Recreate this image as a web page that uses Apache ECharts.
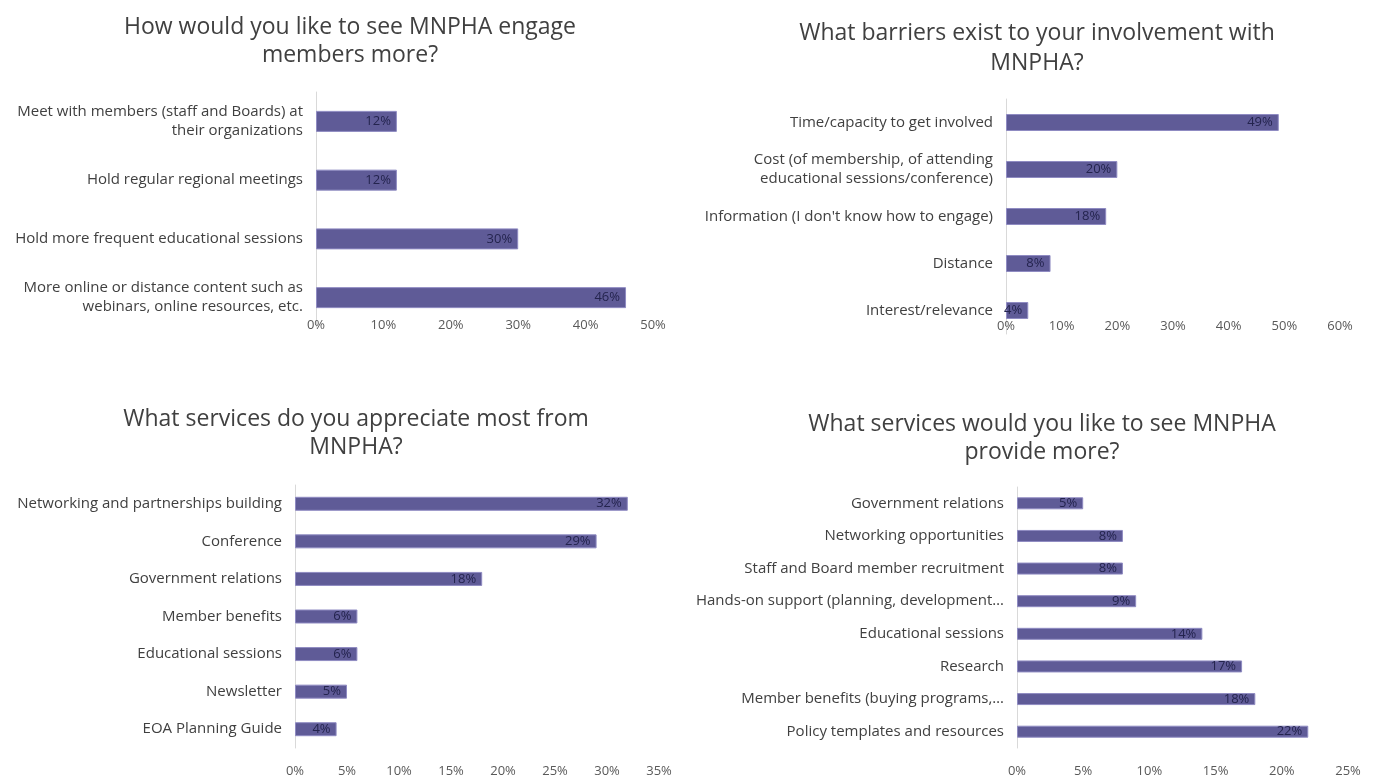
<!DOCTYPE html>
<html>
<head>
<meta charset="utf-8">
<script src="https://cdn.jsdelivr.net/npm/echarts@6/dist/echarts.min.js"></script>
<style>
html,body{margin:0;padding:0;background:#fff;}
#c{width:1373px;height:778px;}
</style>
</head>
<body>
<div id="c"></div>
<script>
// ---- Data (top to bottom as shown) ----
const engageTitle = "How would you like to see MNPHA engage\nmembers more?";
const engageCats = [
  "Meet with members (staff and Boards) at\ntheir organizations",
  "Hold regular regional meetings",
  "Hold more frequent educational sessions",
  "More online or distance content such as\nwebinars, online resources, etc."
];
const engageVals = [12, 12, 30, 46];
const engageTicks = { max: 50, interval: 10 };

const barrierTitle = "What barriers exist to your involvement with\nMNPHA?";
const barrierCats = [
  "Time/capacity to get involved",
  "Cost (of membership, of attending\neducational sessions/conference)",
  "Information (I don't know how to engage)",
  "Distance",
  "Interest/relevance"
];
const barrierVals = [49, 20, 18, 8, 4];
const barrierTicks = { max: 60, interval: 10 };

const appreciateTitle = "What services do you appreciate most from\nMNPHA?";
const appreciateCats = [
  "Networking and partnerships building",
  "Conference",
  "Government relations",
  "Member benefits",
  "Educational sessions",
  "Newsletter",
  "EOA Planning Guide"
];
const appreciateVals = [32, 29, 18, 6, 6, 5, 4];
const appreciateTicks = { max: 35, interval: 5 };

const provideTitle = "What services would you like to see MNPHA\nprovide more?";
const provideCats = [
  "Government relations",
  "Networking opportunities",
  "Staff and Board member recruitment",
  "Hands-on support (planning, development…",
  "Educational sessions",
  "Research",
  "Member benefits (buying programs,…",
  "Policy templates and resources"
];
const provideVals = [5, 8, 8, 9, 14, 17, 18, 22];
const provideTicks = { max: 25, interval: 5 };

// ---- Layout / style ----
const FONT = '"Open Sans", Lato, sans-serif';
const BAR = '#5f5b97';
const panels = [
  { title: engageTitle, cats: engageCats, vals: engageVals, ticks: engageTicks,
    grid: { left: 316, width: 337, top: 92, height: 235 }, titlePos: { x: 345, y: 8 }, lh: 28, barW: 21, xMargin: -8 },
  { title: barrierTitle, cats: barrierCats, vals: barrierVals, ticks: barrierTicks,
    grid: { left: 1006, width: 334, top: 99, height: 235 }, titlePos: { x: 1032, y: 13 }, lh: 30, barW: 17, xMargin: -14 },
  { title: appreciateTitle, cats: appreciateCats, vals: appreciateVals, ticks: appreciateTicks,
    grid: { left: 295, width: 364, top: 485, height: 265 }, titlePos: { x: 351, y: 400 }, lh: 28, barW: 14, xMargin: 17 },
  { title: provideTitle, cats: provideCats, vals: provideVals, ticks: provideTicks,
    grid: { left: 1017, width: 331, top: 487, height: 263 }, titlePos: { x: 1037, y: 405 }, lh: 28, barW: 12, xMargin: 17 }
];

const option = {
  backgroundColor: '#fff',
  animation: false,
  title: panels.map(p => ({
    text: p.title,
    left: p.titlePos.x,
    top: p.titlePos.y,
    textAlign: 'center',
    textStyle: { fontFamily: FONT, fontSize: 23, fontWeight: 'normal', color: '#404040', lineHeight: p.lh }
  })),
  grid: panels.map(p => Object.assign({ containLabel: false }, p.grid)),
  xAxis: panels.map((p, i) => ({
    type: 'value', gridIndex: i, min: 0, max: p.ticks.max, interval: p.ticks.interval,
    axisLine: { show: false }, axisTick: { show: false }, splitLine: { show: false },
    axisLabel: { formatter: '{value}%', margin: p.xMargin, color: '#595959', fontFamily: FONT, fontSize: 13 }
  })),
  yAxis: panels.map((p, i) => ({
    type: 'category', gridIndex: i, data: p.cats, inverse: true,
    axisLine: { show: true, lineStyle: { color: '#d9d9d9', width: 1 } },
    axisTick: { show: false },
    axisLabel: { color: '#404040', fontFamily: FONT, fontSize: 15, margin: 13, lineHeight: 19, align: 'right' }
  })),
  series: panels.map((p, i) => ({
    type: 'bar', xAxisIndex: i, yAxisIndex: i, data: p.vals, barWidth: p.barW,
    itemStyle: { color: BAR, borderColor: '#8f8bc2', borderWidth: 1 },
    label: { show: true, position: 'insideRight', distance: 6, formatter: '{c}%',
      color: '#24244e', fontFamily: FONT, fontSize: 13 }
  }))
};

const chart = echarts.init(document.getElementById('c'), null, { renderer: 'canvas' });
chart.setOption(option);
</script>
</body>
</html>
